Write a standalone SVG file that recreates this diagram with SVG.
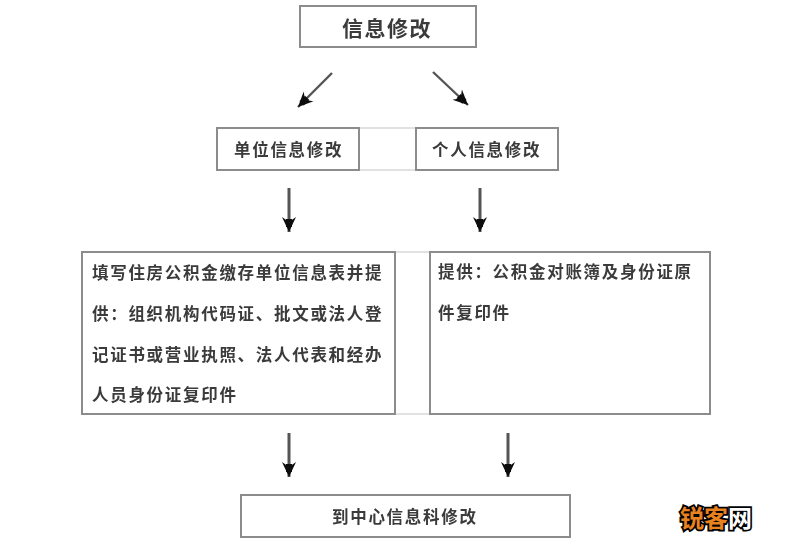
<svg xmlns="http://www.w3.org/2000/svg" width="800" height="550" viewBox="0 0 800 550">
<style>
.box{fill:#fff;stroke:#8c8c8c;stroke-width:2}
.faint{stroke:#e2e2e2;stroke-width:2;fill:none}
.conn{stroke:#555;stroke-width:3;fill:none}
.thin{stroke-width:2.4}
.t{font-family:"Noto Sans CJK SC","Liberation Sans",sans-serif;font-size:16.5px;font-weight:700;letter-spacing:1.7px;fill:#3a3a3a}
.big{font-size:21px;letter-spacing:1.5px}
.wm{font-family:"Noto Sans CJK SC",sans-serif;font-size:24px;font-weight:700;stroke:#000;stroke-width:3.5px;paint-order:stroke}
</style>
<defs>
<marker id="a" markerUnits="userSpaceOnUse" markerWidth="18" markerHeight="18" refX="15" refY="8" orient="auto"><path d="M0 1L15 8L0 15L5 8Z" fill="#111"/><rect x="2" y="5" width="8" height="6" fill="#111"/></marker>
<filter id="soft" x="-5%" y="-5%" width="110%" height="110%"><feGaussianBlur stdDeviation="0.6"/></filter>
</defs>
<rect width="800" height="550" fill="#fff"/>
<g filter="url(#soft)">
<g id="connectors">
<path class="faint" d="M359 128H416M359 170H416M395 252H430M395 414H430"/>
<line class="conn thin" x1="332" y1="73" x2="298" y2="107" marker-end="url(#a)"/>
<line class="conn thin" x1="433" y1="72" x2="468" y2="105" marker-end="url(#a)"/>
<line class="conn" x1="289" y1="188" x2="289" y2="232" marker-end="url(#a)"/>
<line class="conn" x1="480" y1="188" x2="480" y2="232" marker-end="url(#a)"/>
<line class="conn" x1="289" y1="433" x2="289" y2="477" marker-end="url(#a)"/>
<line class="conn" x1="508" y1="433" x2="508" y2="477" marker-end="url(#a)"/>
</g>
<g id="top"><rect class="box" x="300" y="6" width="176" height="41"/><text class="t big" x="342" y="36">信息修改</text></g>
<g id="unit"><rect class="box" x="217" y="128" width="142" height="42"/><text class="t" x="234" y="156">单位信息修改</text></g>
<g id="person"><rect class="box" x="416" y="128" width="142" height="42"/><text class="t" x="432" y="156">个人信息修改</text></g>
<g id="unit-detail"><rect class="box" x="82" y="252" width="313" height="162"/>
<text class="t" x="92" y="279">填写住房公积金缴存单位信息表并提</text>
<text class="t" x="92" y="320">供：组织机构代码证、批文或法人登</text>
<text class="t" x="92" y="361">记证书或营业执照、法人代表和经办</text>
<text class="t" x="92" y="401">人员身份证复印件</text></g>
<g id="person-detail"><rect class="box" x="430" y="252" width="280" height="162"/>
<text class="t" x="438" y="278">提供：公积金对账簿及身份证原</text>
<text class="t" x="438" y="319">件复印件</text></g>
<g id="final"><rect class="box" x="241" y="495" width="329" height="42"/><text class="t" x="332" y="523">到中心信息科修改</text></g>
</g>
<text class="wm" x="680" y="527" fill="#e8821e">锐客<tspan fill="#fff">网</tspan></text>
</svg>
